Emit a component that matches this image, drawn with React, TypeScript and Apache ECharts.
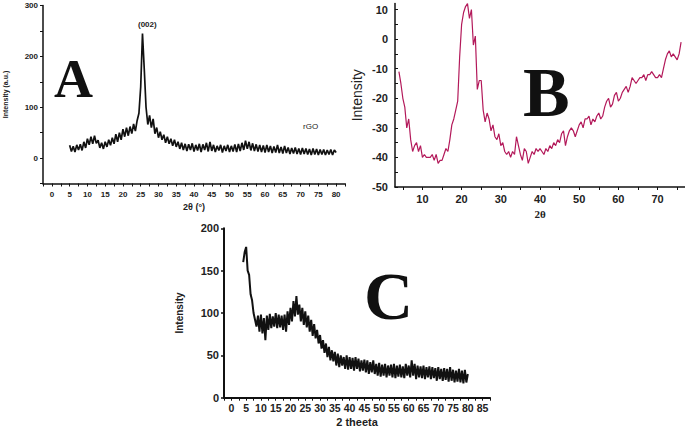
import React, { useEffect, useRef } from "react";
import * as echarts from "echarts";

// Panel A (rGO): 2θ from 5 to 80, step 0.5
const A_START = 5;
const A_STEP = 0.5;
const aValues = [
  25, 13, 23, 12, 26, 16, 27, 15, 32, 20, 38, 26, 42, 28, 44, 29, 35, 20, 30, 18,
  32, 22, 36, 25, 40, 28, 47, 32, 50, 36, 57, 42, 60, 44, 62, 48, 67, 53, 74, 88,
  140, 245, 175, 100, 66, 84, 60, 77, 48, 60, 40, 52, 36, 46, 30, 42, 28, 38, 24, 36,
  22, 32, 18, 30, 16, 28, 14, 27, 16, 29, 13, 26, 15, 28, 12, 27, 16, 30, 13, 32,
  14, 26, 12, 24, 15, 26, 11, 24, 14, 26, 12, 24, 13, 27, 12, 28, 14, 30, 16, 34,
  18, 32, 15, 29, 14, 27, 13, 26, 12, 25, 11, 26, 12, 24, 10, 23, 11, 26, 10, 22,
  9, 24, 10, 21, 8, 20, 9, 21, 8, 19, 7, 20, 8, 19, 7, 18, 6, 19, 7, 18,
  6, 17, 7, 17, 6, 16, 7, 17, 6, 16, 11,
];
const aXTicks = [0, 5, 10, 15, 20, 25, 30, 35, 40, 45, 50, 55, 60, 65, 70, 75, 80];
const aYTicks = [0, 100, 200, 300];

// Panel B: 2θ from 4 to 76, step 0.5
const B_START = 4;
const B_STEP = 0.5;
const bValues = [
  -11, -15, -20, -23, -30, -27, -34, -38, -36, -35, -38, -36, -40, -39, -40, -40, -40, -39, -41, -39,
  -42, -41, -41, -39, -37, -38, -34, -29, -27, -24, -21, -6, 5, 9, 11, 12, 7, 10, -2, 1,
  -17, -14, -14, -24, -28, -25, -27, -31, -29, -33, -34, -32, -36, -35, -38, -39, -38, -40, -38, -39,
  -33, -36, -39, -41, -37, -38, -42, -40, -38, -39, -37, -38, -37, -38, -39, -37, -38, -36, -37, -35,
  -36, -34, -35, -32, -31, -36, -33, -31, -30, -31, -33, -31, -29, -28, -30, -27, -27, -26, -29, -27,
  -28, -26, -25, -27, -26, -23, -21, -20, -23, -22, -19, -18, -21, -20, -18, -17, -16, -18, -16, -13,
  -14, -15, -14, -13, -13, -12, -14, -12, -12, -11, -12, -13, -13, -12, -13, -10, -7, -5, -4, -6,
  -5, -6, -7, -5, -1,
];
const bXTicks = [10, 20, 30, 40, 50, 60, 70];
const bYTicks = [-50, -40, -30, -20, -10, 0, 10];

// Panel C: 2θ from 4 to 80, step 0.5
const C_START = 4;
const C_STEP = 0.5;
const cValues = [
  160, 172, 178, 150, 145, 122, 115, 100, 92, 84, 97, 78, 98, 76, 94, 68, 97, 80, 99, 82,
  96, 84, 100, 82, 98, 83, 97, 80, 98, 78, 102, 86, 106, 90, 114, 96, 120, 98, 110, 90,
  106, 86, 102, 83, 97, 78, 92, 73, 87, 70, 80, 64, 74, 58, 68, 53, 64, 48, 60, 44,
  56, 43, 54, 38, 52, 36, 50, 38, 48, 34, 50, 33, 48, 34, 47, 32, 48, 34, 46, 31,
  44, 32, 45, 30, 44, 28, 42, 30, 44, 28, 40, 26, 41, 25, 39, 26, 40, 24, 38, 26,
  39, 24, 40, 23, 38, 25, 39, 24, 37, 23, 40, 26, 38, 24, 44, 26, 40, 22, 38, 24,
  37, 23, 38, 22, 36, 24, 37, 22, 36, 23, 35, 20, 36, 22, 34, 20, 35, 21, 34, 19,
  36, 20, 33, 18, 32, 19, 34, 18, 32, 17, 33, 18, 28,
];
const cXTicks = [0, 5, 10, 15, 20, 25, 30, 35, 40, 45, 50, 55, 60, 65, 70, 75, 80, 85];
const cYTicks = [0, 50, 100, 150, 200];

const toPairs = (vals: number[], start: number, step: number) =>
  vals.map((v, i) => [start + i * step, v]);

export default function App() {
  const ref = useRef<HTMLDivElement>(null);
  useEffect(() => {
    const chart = echarts.init(ref.current!, null, { renderer: "svg" });
    const sans = "Liberation Sans, Arial, sans-serif";
    const serif = "Liberation Serif, Times New Roman, serif";
    const axisLine = (w: number) => ({ show: true, onZero: false, lineStyle: { color: "#111", width: w } });
    chart.setOption({
      animation: false,
      backgroundColor: "#fff",
      grid: [
        { left: 43, top: 5.5, width: 302, height: 178 },
        { left: 395, top: 3.6, width: 290, height: 183.4 },
        { left: 224, top: 228.3, width: 266, height: 169.4 },
      ],
      xAxis: [
        {
          gridIndex: 0,
          type: "value",
          min: -2.5,
          max: 82.5,
          interval: 2.5,
          axisLine: axisLine(1.5),
          axisTick: { show: true, length: 3, lineStyle: { color: "#111", width: 1 } },
          splitLine: { show: false },
          axisLabel: {
            fontSize: 8,
            fontWeight: "bold",
            color: "#222",
            fontFamily: sans,
            margin: 7,
            formatter: (v: number) => (aXTicks.includes(v) ? String(v) : ""),
          },
          name: "2θ (°)",
          nameLocation: "middle",
          nameGap: 19,
          nameTextStyle: { fontSize: 9, fontWeight: "bold", color: "#222", fontFamily: sans },
        },
        {
          gridIndex: 1,
          type: "value",
          min: 3,
          max: 77,
          axisLine: axisLine(1.5),
          axisTick: {
            show: true,
            length: 3,
            customValues: [5, 10, 15, 20, 25, 30, 35, 40, 45, 50, 55, 60, 65, 70, 75],
            lineStyle: { color: "#111", width: 1 },
          },
          splitLine: { show: false },
          axisLabel: {
            fontSize: 11,
            fontWeight: "bold",
            color: "#222",
            fontFamily: sans,
            margin: 6,
            customValues: bXTicks,
          },
          name: "2θ",
          nameLocation: "middle",
          nameGap: 21,
          nameTextStyle: { fontSize: 11, fontWeight: "bold", color: "#222", fontFamily: serif },
        },
        {
          gridIndex: 2,
          type: "value",
          min: -2.5,
          max: 87.5,
          interval: 2.5,
          axisLine: axisLine(2),
          axisTick: { show: true, length: 3, lineStyle: { color: "#111", width: 1 } },
          splitLine: { show: false },
          axisLabel: {
            fontSize: 10.5,
            fontWeight: "bold",
            color: "#222",
            fontFamily: sans,
            margin: 5,
            formatter: (v: number) => (cXTicks.includes(v) ? String(v) : ""),
          },
          name: "2 theeta",
          nameLocation: "middle",
          nameGap: 19,
          nameTextStyle: { fontSize: 11, fontWeight: "bold", color: "#222", fontFamily: sans },
        },
      ],
      yAxis: [
        {
          gridIndex: 0,
          type: "value",
          min: -50,
          max: 300,
          interval: 50,
          axisLine: axisLine(1.5),
          axisTick: { show: true, length: 3, lineStyle: { color: "#111", width: 1 } },
          splitLine: { show: false },
          axisLabel: {
            fontSize: 8,
            fontWeight: "bold",
            color: "#222",
            fontFamily: sans,
            margin: 5,
            formatter: (v: number) => (aYTicks.includes(v) ? String(v) : ""),
          },
          name: "Intensity (a.u.)",
          nameLocation: "middle",
          nameGap: 34,
          nameTextStyle: { fontSize: 7, fontWeight: "bold", color: "#222", fontFamily: sans },
        },
        {
          gridIndex: 1,
          type: "value",
          min: -50,
          max: 12,
          axisLine: axisLine(1.5),
          axisTick: {
            show: true,
            inside: true,
            length: 3,
            customValues: [-50, -45, -40, -35, -30, -25, -20, -15, -10, -5, 0, 5, 10],
            lineStyle: { color: "#111", width: 1 },
          },
          splitLine: { show: false },
          axisLabel: {
            fontSize: 11,
            fontWeight: "bold",
            color: "#222",
            fontFamily: sans,
            margin: 7,
            customValues: bYTicks,
          },
          name: "Intensity",
          nameLocation: "middle",
          nameGap: 31,
          nameTextStyle: { fontSize: 14, color: "#222", fontFamily: sans },
        },
        {
          gridIndex: 2,
          type: "value",
          min: 0,
          max: 200,
          interval: 50,
          axisLine: axisLine(2),
          axisTick: { show: true, length: 3, lineStyle: { color: "#111", width: 1.5 } },
          splitLine: { show: false },
          axisLabel: {
            fontSize: 11,
            fontWeight: "bold",
            color: "#222",
            fontFamily: sans,
            margin: 5,
            formatter: (v: number) => (cYTicks.includes(v) ? String(v) : ""),
          },
          name: "Intensity",
          nameLocation: "middle",
          nameGap: 40,
          nameTextStyle: { fontSize: 10, fontWeight: "bold", color: "#222", fontFamily: sans },
        },
      ],
      series: [
        {
          type: "line",
          xAxisIndex: 0,
          yAxisIndex: 0,
          data: toPairs(aValues, A_START, A_STEP),
          showSymbol: false,
          lineStyle: { color: "#111", width: 1.7 },
        },
        {
          type: "line",
          xAxisIndex: 1,
          yAxisIndex: 1,
          data: toPairs(bValues, B_START, B_STEP),
          showSymbol: false,
          lineStyle: { color: "#b3195a", width: 1.2 },
        },
        {
          type: "line",
          xAxisIndex: 2,
          yAxisIndex: 2,
          data: toPairs(cValues, C_START, C_STEP),
          showSymbol: false,
          lineStyle: { color: "#111", width: 2 },
        },
      ],
      graphic: [
        {
          type: "text",
          left: 54,
          top: 52,
          style: { text: "A", font: `bold 54px ${serif}`, fill: "#111" },
        },
        {
          type: "text",
          left: 138,
          top: 20,
          style: { text: "(002)", font: `bold 8px ${sans}`, fill: "#222" },
        },
        {
          type: "text",
          left: 303,
          top: 122,
          style: { text: "rGO", font: `8px ${sans}`, fill: "#222" },
        },
        {
          type: "text",
          left: 523,
          top: 57,
          style: { text: "B", font: `bold 70px ${serif}`, fill: "#111" },
        },
        {
          type: "text",
          left: 364,
          top: 262,
          style: { text: "C", font: `bold 68px ${serif}`, fill: "#111" },
        },
      ],
    });
    return () => chart.dispose();
  }, []);
  return (
    <div
      ref={ref}
      style={{ position: "absolute", left: 0, top: 0, width: 685, height: 430, background: "#fff" }}
    />
  );
}
